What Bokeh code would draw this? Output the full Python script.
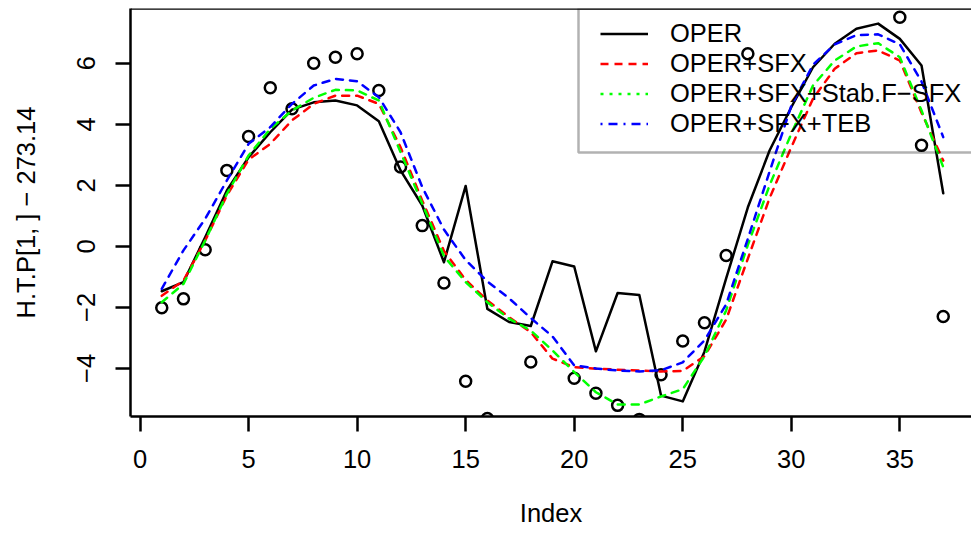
import math
from bokeh.plotting import figure
from bokeh.models import (Range1d, FixedTicker, Span, Legend, LegendItem,
                          ColumnDataSource, BoxAnnotation)
from bokeh.embed import file_html
from bokeh.resources import INLINE

nan = float("nan")

# ---- data ----
idx = list(range(1, 38))
obs = [-2.01, -1.72, -0.11, 2.49, 3.60, 5.20, 4.51, 6.00, 6.20, 6.31,
       5.11, 2.60, 0.68, -1.20, -4.42, -5.64, nan, -3.79, nan, -4.32,
       -4.81, -5.21, -5.67, -4.21, -3.10, -2.50, -0.30, 6.31, nan, nan,
       nan, nan, nan, nan, 7.51, 3.31, -2.30]
oper = [-1.47, -1.17, 0.30, 1.83, 2.92, 3.74, 4.48, 4.72, 4.78, 4.62,
        4.10, 2.49, 1.34, -0.52, 1.98, -2.05, -2.48, -2.61, -0.49, -0.66,
        -3.44, -1.53, -1.59, -4.89, -5.08, -3.45, -1.05, 1.28, 3.14, 4.56,
        5.87, 6.64, 7.13, 7.30, 6.80, 5.93, 1.74]
oper_sfx = [-1.62, -1.12, 0.19, 1.67, 2.84, 3.36, 4.13, 4.67, 4.94, 4.94,
            4.67, 3.25, 1.50, -0.15, -1.10, -1.77, -2.32, -2.81, -3.68, -3.96,
            -4.01, -4.04, -4.07, -4.10, -4.08, -3.60, -2.40, -0.40, 1.58, 3.25,
            4.84, 5.82, 6.33, 6.42, 6.09, 4.38, 2.81]
oper_sfx_stab = [-1.83, -1.23, 0.19, 1.72, 2.98, 3.85, 4.45, 4.87, 5.13, 5.11,
                 4.78, 3.09, 1.40, -0.32, -1.17, -1.83, -2.37, -2.76, -3.41, -4.12,
                 -4.78, -5.18, -5.18, -4.92, -4.68, -3.60, -2.10, 0.05, 2.00, 3.69,
                 5.27, 6.09, 6.55, 6.66, 6.20, 4.45, 2.60]
oper_sfx_teb = [-1.39, -0.13, 0.90, 2.16, 3.36, 3.91, 4.67, 5.27, 5.49, 5.41,
                4.89, 3.74, 1.94, 0.55, -0.45, -1.15, -1.70, -2.35, -2.95, -3.90,
                -4.00, -4.07, -4.10, -4.06, -3.80, -3.08, -1.90, 0.25, 2.45, 4.60,
                5.95, 6.62, 6.92, 6.95, 6.62, 5.40, 3.58]
labels = ["OPER", "OPER+SFX", "OPER+SFX+Stab.F\u2212SFX", "OPER+SFX+TEB"]
x_ticks = [0, 5, 10, 15, 20, 25, 30, 35]
y_ticks = [-4, -2, 0, 2, 4, 6]
x_label = "Index"
y_label = "H.T.P[1, ] \u2212 273.14"

FONT = "Liberation Sans"
FS = "25.5px"
LW = 2.5

# R-style axis limits (4% padding) based on the first plotted series
xr = (min(idx), max(idx))
pad_x = 0.04 * (xr[1] - xr[0])
yr = (min(oper), max(oper))
pad_y = 0.04 * (yr[1] - yr[0])
x0 = xr[0] - pad_x
x1_full = xr[1] + pad_x
y0, y1 = yr[0] - pad_y, yr[1] + pad_y

FRAME_LEFT, FRAME_TOP, FRAME_BOTTOM, W, Hc = 130, 8, 416, 971, 533
frame_w = W - FRAME_LEFT            # the R plot region runs past the window edge
frame_w_full = 844.0
x1 = x0 + (x1_full - x0) * frame_w / frame_w_full
frame_h = FRAME_BOTTOM - FRAME_TOP

p = figure(width=W, height=Hc, output_backend="svg", toolbar_location=None,
           x_range=Range1d(x0, x1), y_range=Range1d(y0, y1),
           min_border_left=FRAME_LEFT, min_border_right=0, min_border_top=FRAME_TOP,
           min_border_bottom=Hc - FRAME_BOTTOM)
p.outline_line_color = None
p.grid.visible = False
p.background_fill_color = "white"
p.border_fill_color = "white"

for ax in (p.xaxis[0], p.yaxis[0]):
    ax.axis_line_color = "black"
    ax.axis_line_width = LW
    ax.major_tick_line_color = "black"
    ax.major_tick_line_width = LW
    ax.major_tick_in = 0
    ax.major_tick_out = 15
    ax.minor_tick_line_color = None
    ax.major_label_text_font = FONT
    ax.major_label_text_font_size = FS
    ax.major_label_text_color = "black"
    ax.axis_label_text_font = FONT
    ax.axis_label_text_font_size = FS
    ax.axis_label_text_font_style = "normal"
    ax.axis_label_text_color = "black"

p.xaxis.ticker = FixedTicker(ticks=x_ticks)
p.yaxis.ticker = FixedTicker(ticks=y_ticks)
p.yaxis.major_label_overrides = {t: (("\u2212" + str(-t)) if t < 0 else str(t)) for t in y_ticks}
p.yaxis.major_label_orientation = "vertical"
p.xaxis.axis_label = x_label
p.yaxis.axis_label = y_label
p.xaxis.major_label_standoff = 18
p.xaxis.axis_label_standoff = 28
p.yaxis.major_label_standoff = 20
p.yaxis.axis_label_standoff = 35

# top border of the box
p.add_layout(Span(location=y1, dimension="width", line_color="black", line_width=LW))

src = ColumnDataSource(dict(x=idx, obs=obs, oper=oper, sfx=oper_sfx,
                            stab=oper_sfx_stab, teb=oper_sfx_teb))

p.line("x", "oper", source=src, line_color="black", line_width=LW,
       line_join="round", line_cap="round")
p.scatter("x", "obs", source=src, marker="circle", size=11,
          fill_color=None, line_color="black", line_width=LW)
for col, c in (("sfx", "#FF0000"), ("stab", "#00FF00"), ("teb", "#0000FF")):
    p.line("x", col, source=src, line_color=c, line_width=LW,
           line_dash="7 7", line_cap="round", line_join="round")

# legend frame (R draws it from the top of the box to below the 4th entry)
LEG_LEFT_PX, LEG_BOTTOM_PX = 578, 152
sx = frame_w / (x1 - x0)
sy = frame_h / (y1 - y0)
p.add_layout(BoxAnnotation(left=x0 + (LEG_LEFT_PX - FRAME_LEFT) / sx, right=x1 + 5,
                           top=y1, bottom=y1 - (LEG_BOTTOM_PX - FRAME_TOP) / sy,
                           fill_alpha=0, line_color="black", line_width=LW,
                           level="overlay"))

# legend-only renderers (the legend's line styles differ from the plotted ones)
blank = ColumnDataSource(dict(x=[nan], y=[nan]))
lg_styles = [("black", "solid"), ("#FF0000", "8 6"), ("#00FF00", "3 6"),
             ("#0000FF", "2 6 9 6")]
items = []
for lab, (col, dash) in zip(labels, lg_styles):
    r = p.line("x", "y", source=blank, line_color=col, line_width=LW, line_dash=dash)
    items.append(LegendItem(label=lab, renderers=[r]))

# legend without its own border (no padding then); contents placed as in R
LH, SP = 27, 1
content_h = 4 * LH + 3 * SP
CONTENT_LEFT_PX, CONTENT_TOP_PX = 600, 26.5
leg = Legend(items=items,
             location=(CONTENT_LEFT_PX - FRAME_LEFT, FRAME_BOTTOM - CONTENT_TOP_PX - content_h),
             margin=0, padding=0, spacing=SP, label_height=LH, glyph_height=LH,
             glyph_width=48, label_standoff=22, label_text_font=FONT,
             label_text_font_size=FS, label_text_color="black",
             border_line_color=None, background_fill_alpha=0.0)
p.add_layout(leg)

open("out.html", "w").write(file_html(p, INLINE))
